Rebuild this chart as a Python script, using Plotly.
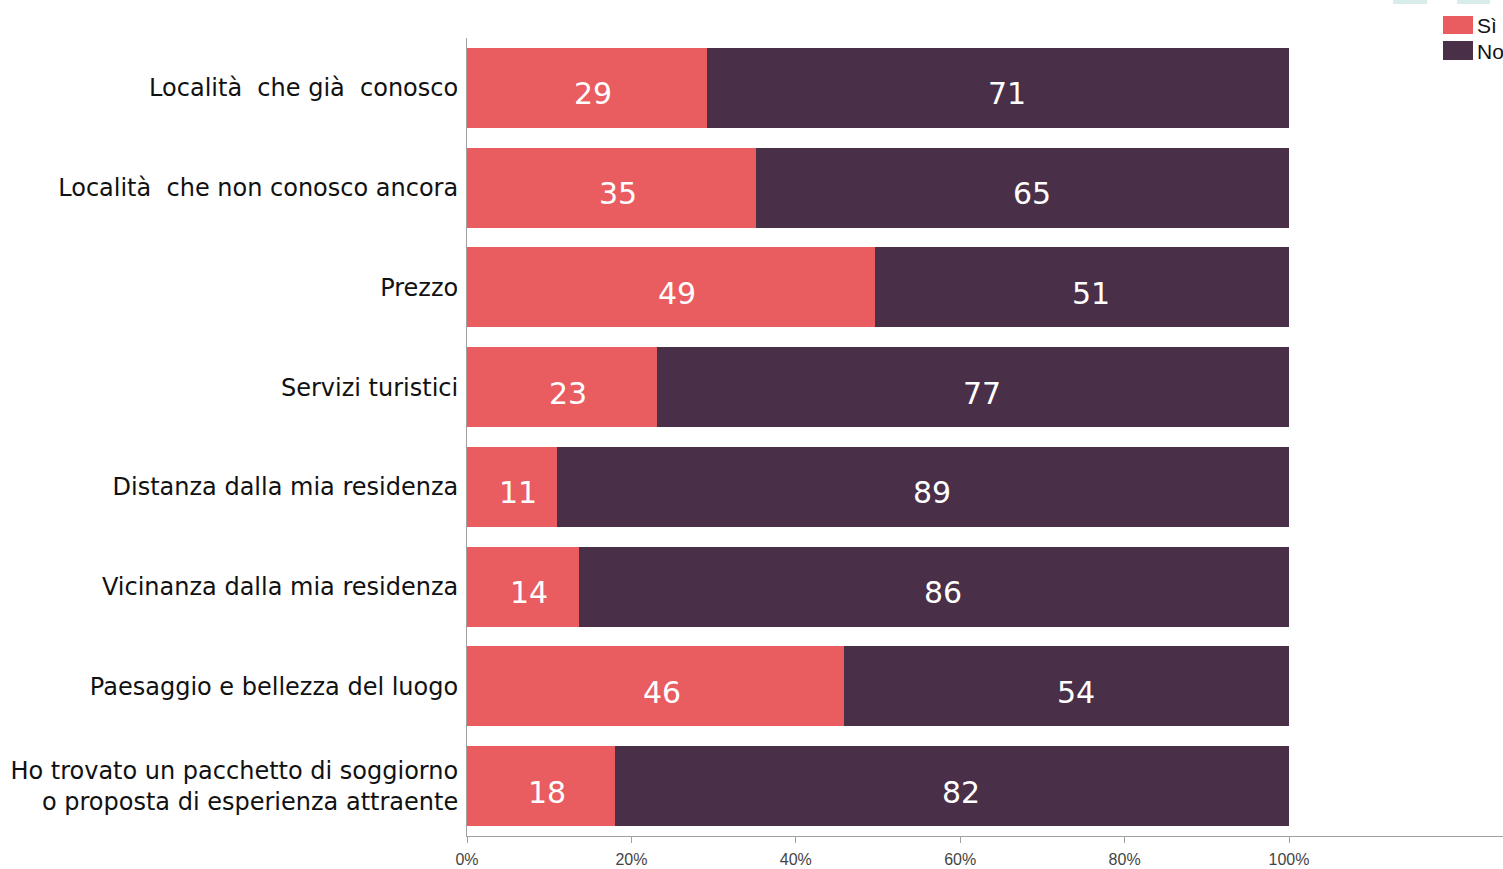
import plotly.graph_objects as go

categories = [
    "Località\u00a0 che già\u00a0 conosco",
    "Località\u00a0 che non conosco ancora",
    "Prezzo",
    "Servizi turistici",
    "Distanza dalla mia residenza",
    "Vicinanza dalla mia residenza",
    "Paesaggio e bellezza del luogo",
    "Ho trovato un pacchetto di soggiorno<br>o proposta di esperienza attraente",
]
# bar lengths (percent)
si_values = [29.2, 35.2, 49.6, 23.1, 11.0, 13.6, 45.9, 18.0]
no_values = [70.8, 64.8, 50.4, 76.9, 89.0, 86.4, 54.1, 82.0]
# printed labels
si_labels = ["29", "35", "49", "23", "11", "14", "46", "18"]
no_labels = ["71", "65", "51", "77", "89", "86", "54", "82"]
series_names = ["Sì", "No"]
series_colors = ["#E95C5F", "#4A2F48"]
tick_vals = [0, 20, 40, 60, 80, 100]
tick_text = ["0%", "20%", "40%", "60%", "80%", "100%"]

W, H = 1503, 869
ML, MR, MT, MB = 467, 0, 38, 33
plot_w = W - ML - MR
plot_h = H - MT - MB
px_per_unit = 822 / 100.0
xmax = plot_w / px_per_unit

fig = go.Figure()
for name, vals, col in zip(series_names, [si_values, no_values], series_colors):
    fig.add_trace(go.Bar(
        y=categories, x=vals, name=name, orientation="h",
        marker=dict(color=col, line=dict(width=0)),
        showlegend=False, hoverinfo="x+y+name",
    ))

annotations = []
# value labels inside segments
series_vals = [si_values, no_values]
series_labels = [si_labels, no_labels]
label_xshift = [6, 9]
for s, vals in enumerate(series_vals):
    for i, cat in enumerate(categories):
        start = sum(series_vals[k][i] for k in range(s))
        annotations.append(dict(
            x=start + vals[i] / 2, y=cat, xref="x", yref="y",
            text=series_labels[s][i], showarrow=False, xshift=label_xshift[s], yshift=-6,
            font=dict(family="DejaVu Sans", size=30, color="white")))

def px_x(p):  # page pixel -> paper
    return (p - ML) / plot_w

def px_y(p):
    return (H - MB - p) / plot_h

shapes = []
# legend (manual)
leg_rows = [(16, 34), (41, 60)]
for (y0, y1), name, col in zip(leg_rows, series_names, series_colors):
    shapes.append(dict(type="rect", xref="paper", yref="paper",
                       x0=px_x(1443), x1=px_x(1473), y0=px_y(y1), y1=px_y(y0),
                       fillcolor=col, line=dict(width=0)))
    annotations.append(dict(xref="paper", yref="paper", x=px_x(1475),
                            y=px_y((y0 + y1) / 2 + 1), xanchor="left", yanchor="middle",
                            text=name, showarrow=False,
                            font=dict(family="Liberation Sans", size=21, color="#111")))
# faint marks at top edge
for a, b in [(1393, 1427), (1457, 1490)]:
    shapes.append(dict(type="rect", xref="paper", yref="paper",
                       x0=px_x(a), x1=px_x(b), y0=px_y(4), y1=px_y(0),
                       fillcolor="#D8ECEA", line=dict(width=0)))

fig.update_layout(
    width=W, height=H,
    margin=dict(l=ML, r=MR, t=MT, b=MB, pad=0),
    paper_bgcolor="white", plot_bgcolor="white",
    barmode="stack", bargap=0.2,
    shapes=shapes, annotations=annotations,
    xaxis=dict(range=[0, xmax], tickvals=tick_vals, ticktext=tick_text,
               showgrid=False, zeroline=False, showline=True, linecolor="#A0A0A0",
               linewidth=1, ticks="outside", ticklen=6, tickcolor="#A0A0A0",
               ticklabelstandoff=3,
               tickfont=dict(family="Liberation Sans", size=16, color="#444")),
    yaxis=dict(autorange="reversed", showgrid=False, zeroline=False,
               showline=True, linecolor="#A0A0A0", linewidth=1, ticks="",
               ticklabelstandoff=3,
               tickfont=dict(family="DejaVu Sans", size=24, color="#111")),
)

fig.write_html("out.html", config={"displayModeBar": False},
               post_script="document.body.style.margin='0';document.body.style.overflow='hidden';")
